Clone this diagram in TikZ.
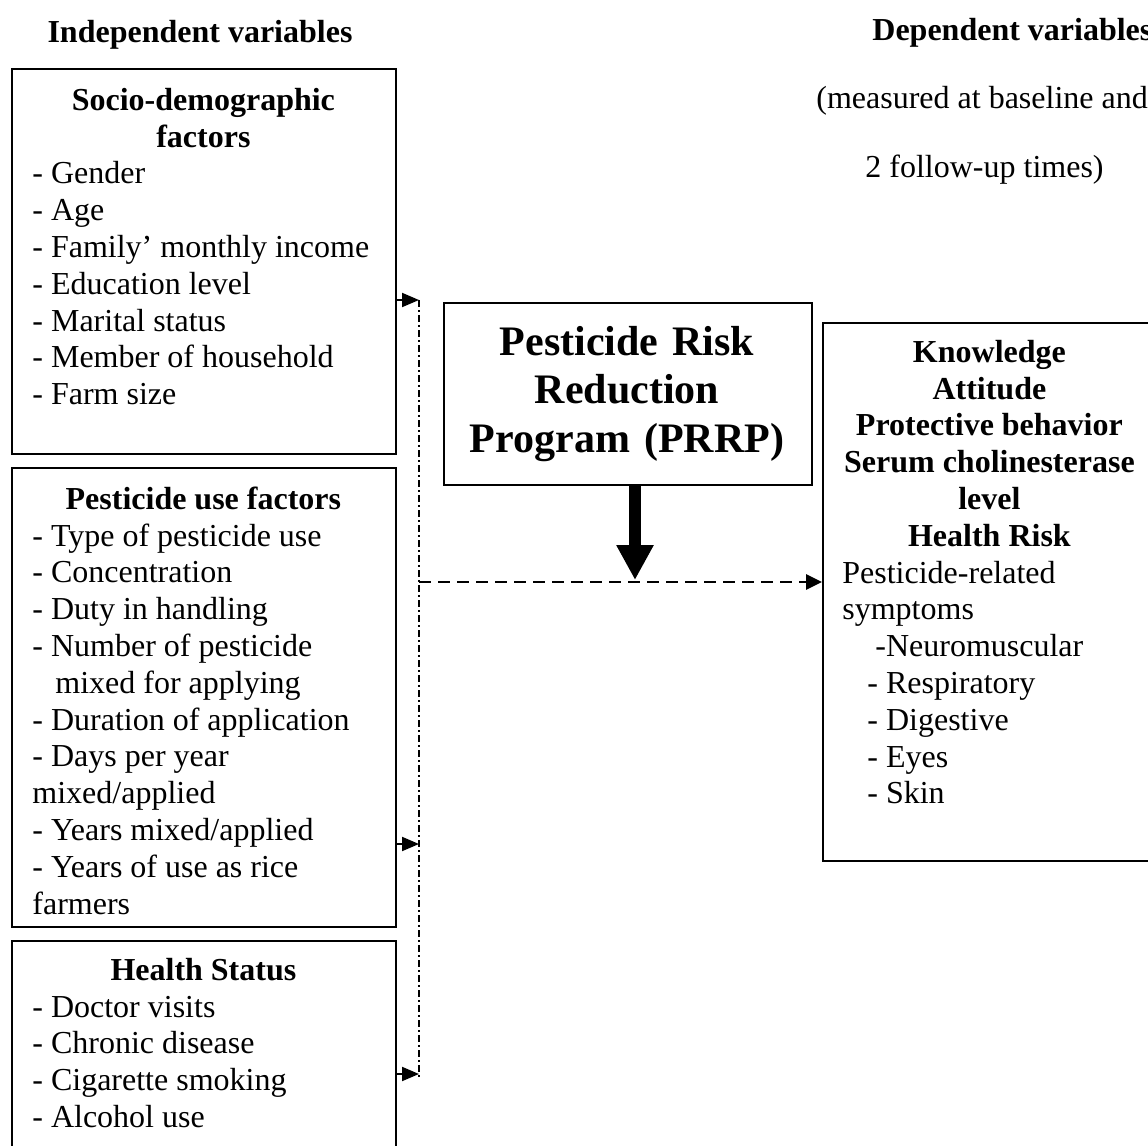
\documentclass[tikz,border=0pt]{standalone}
\usepackage{fontspec}
\setmainfont{Liberation Serif}
\usetikzlibrary{arrows.meta}
% centred bold heading line inside a left-aligned block
\newlength{\ctw}
\newcommand{\ctitle}[1]{\makebox[\ctw]{\bfseries #1}}
\begin{document}
\begin{tikzpicture}[x=0.5pt,y=-0.5pt,
  frame/.style={draw, line width=1pt, inner sep=0pt, anchor=north west},
  body/.style={anchor=north west, inner sep=0pt, align=flush left,
    text width=200pt, font=\fontsize{16}{18.4}\selectfont,
    execute at begin node={\setlength{\ctw}{#1}}},
  plain/.style={inner sep=0pt, font=\fontsize{16}{18.4}\selectfont},
  head/.style={plain, font=\fontsize{16}{18.4}\selectfont\bfseries},
  feed/.style={line width=1pt, -{Triangle[length=8.5pt,width=7pt]}},
  collect/.style={line width=1pt, dash pattern=on 3.5pt off 1.5pt on 1pt off 1.5pt},
  effect/.style={line width=1.4pt, dash pattern=on 6pt off 3.5pt,
    -{Triangle[length=8pt,width=7.5pt]}},
  program/.style={line width=6pt, -{Triangle[length=17.5pt,width=17.5pt]}}
]
\useasboundingbox (0,0) rectangle (1148,1146);

% column headings
\node[head, anchor=base] (indep) at (200,42) {Independent variables};
\node[head, anchor=base west] (deph) at (872,40) {Dependent variables};
\node[plain, anchor=base west] (meas1) at (816,108) {(measured at baseline and};
\node[plain, anchor=base west] (meas2) at (865,177) {2 follow-up times)};

% independent variable boxes
\node[frame, minimum width=192pt, minimum height=192.75pt] (soc) at (11,67.5) {};
\node[body=171pt] (soctext) at (32,84.2) {\strut\ctitle{Socio-demographic}\\
\ctitle{factors}\\
- Gender\\
- Age\\
- Family’ monthly income\\
- Education level\\
- Marital status\\
- Member of household\\
- Farm size};

\node[frame, minimum width=192pt, minimum height=229.5pt] (use) at (11,467) {};
\node[body=171pt] (usetext) at (32,483.2) {\strut\ctitle{Pesticide use factors}\\
- Type of pesticide use\\
- Concentration\\
- Duty in handling\\
- Number of pesticide\\
\hspace*{11.5pt}mixed for applying\\
- Duration of application\\
- Days per year\\
mixed/applied\\
- Years mixed/applied\\
- Years of use as rice\\
farmers};

\node[frame, minimum width=192pt, minimum height=110pt] (hlth) at (11,940) {};
\node[body=171pt] (hlthtext) at (32,954.2) {\strut\ctitle{Health Status}\\
- Doctor visits\\
- Chronic disease\\
- Cigarette smoking\\
- Alcohol use};

% intervention
\node[frame, minimum width=184pt, minimum height=91pt] (prrp) at (443,302) {};
\node[anchor=north, inner sep=0pt, text width=180pt, align=center,
  font=\fontsize{21}{24.2}\selectfont\bfseries] (prrptext) at (627,321.1)
  {\strut Pesticide Risk\\ Reduction\\ Program (PRRP)};

% dependent variables
\node[frame, minimum width=170pt, minimum height=269pt] (dep) at (822,322) {};
\node[body=147pt] (deptext) at (842,336.2) {\strut\ctitle{Knowledge}\\
\ctitle{Attitude}\\
\ctitle{Protective behavior}\\
\ctitle{Serum cholinesterase}\\
\ctitle{level}\\
\ctitle{Health Risk}\\
Pesticide-related\\
symptoms\\
\hspace*{16.5pt}-Neuromuscular\\
\hspace*{12.5pt}- Respiratory\\
\hspace*{12.5pt}- Digestive\\
\hspace*{12.5pt}- Eyes\\
\hspace*{12.5pt}- Skin};

% junction points on the collecting line
\coordinate (j1) at (419,300);
\coordinate (j2) at (419,844);
\coordinate (j3) at (419,1074);
\coordinate (jend) at (419,1077);
\coordinate (jd) at (419,582);
\coordinate (tip) at (635,580);

\draw[collect] (j1) -- (jend);
\draw[feed] (j1 -| soc.east) -- (j1);
\draw[feed] (j2 -| use.east) -- (j2);
\draw[feed] (j3 -| hlth.east) -- (j3);
\draw[effect] (jd) -- (jd -| dep.west);
\draw[program] (tip |- prrp.south) -- (tip);
\end{tikzpicture}
\end{document}
